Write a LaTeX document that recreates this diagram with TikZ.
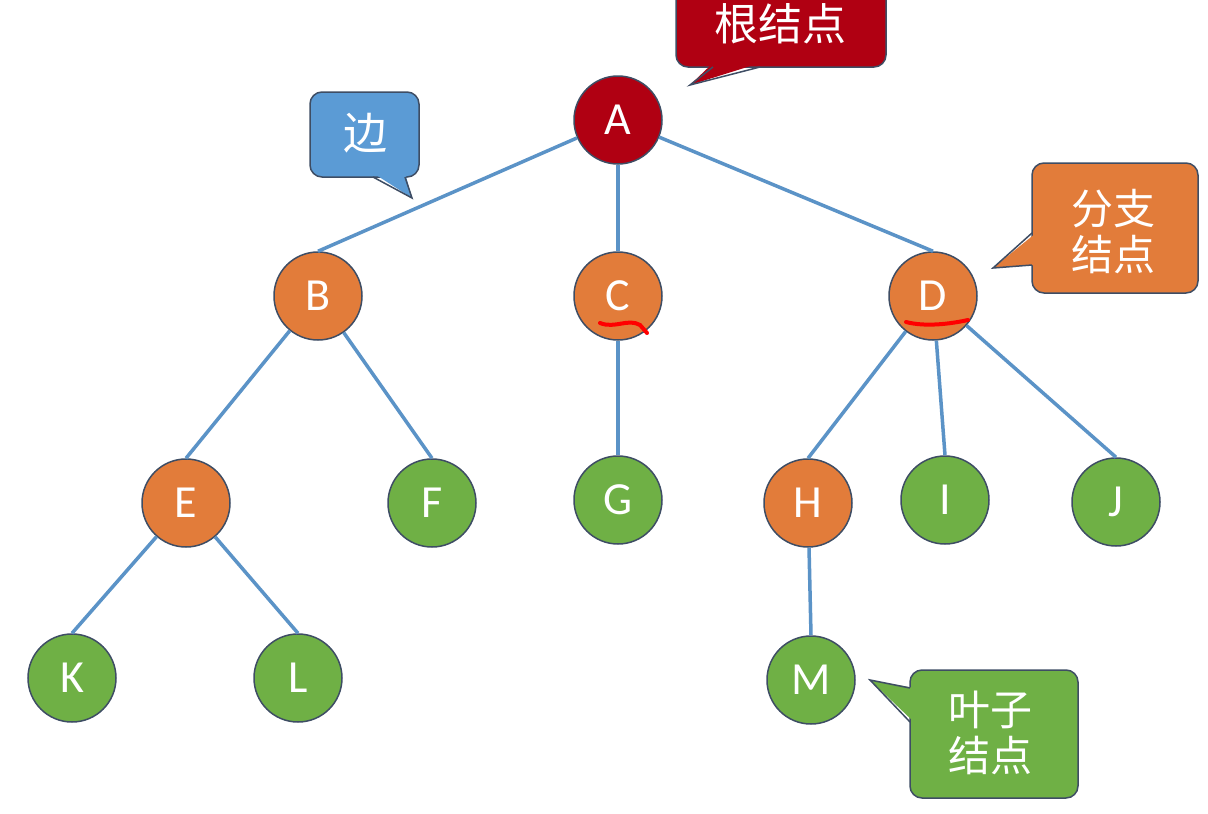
\documentclass[tikz,border=0pt]{standalone}
\usepackage{fontspec}
\setmainfont{Carlito}
\newfontfamily\cjk{Noto Sans CJK SC}
\definecolor{rootred}{HTML}{B00012}
\definecolor{orng}{HTML}{E27C3A}
\definecolor{grn}{HTML}{6FB045}
\definecolor{blu}{HTML}{5B9BD5}
\definecolor{edgeblue}{HTML}{5B93C7}
\definecolor{bord}{HTML}{3E4D64}
\tikzset{
  tnode/.style={circle, minimum size=88pt, inner sep=0pt, draw=bord, line width=1.5pt, text=white, font=\fontsize{46}{46}\selectfont},
  rootn/.style={tnode, fill=rootred},
  branchn/.style={tnode, fill=orng},
  leafn/.style={tnode, fill=grn},
  edgeline/.style={draw=edgeblue, line width=3.5pt},
  boxshape/.style={draw=bord, line width=1.5pt, rounded corners=12pt},
  tipline/.style={draw=bord, line width=1.5pt, line join=miter},
  ctext/.style={text=white, font=\cjk\fontsize{44}{48}\selectfont, align=center, inner sep=0pt},
  redmark/.style={draw=red, line width=4pt, line cap=round}
}
\begin{document}
\begin{tikzpicture}[x=1pt,y=-1pt]
\useasboundingbox (0,0) rectangle (1208,814);
\fill[white] (0,0) rectangle (1208,814);
% nodes
\node[rootn] (A) at (618,120) {A};
\node[branchn] (B) at (318,296) {B};
\node[branchn] (C) at (618,296) {C};
\node[branchn] (D) at (933,296) {D};
\node[branchn] (E) at (186,503) {E};
\node[leafn] (F) at (432,503) {F};
\node[leafn] (G) at (618,500) {G};
\node[branchn] (H) at (808,503) {H};
\node[leafn] (I) at (945,500) {I};
\node[leafn] (J) at (1116,502) {J};
\node[leafn] (K) at (72,678) {K};
\node[leafn] (L) at (298,678) {L};
\node[leafn] (M) at (811,680) {M};
% edges
\draw[edgeline] (A) -- (B.north);
\draw[edgeline] (A) -- (C.north);
\draw[edgeline] (A) -- (D.north);
\draw[edgeline] (B) -- (E.north);
\draw[edgeline] (B) -- (F.north);
\draw[edgeline] (C) -- (G.north);
\draw[edgeline] (D) -- (H.north);
\draw[edgeline] (D) -- (I.north);
\draw[edgeline] (D) -- (J.north);
\draw[edgeline] (E) -- (K.north);
\draw[edgeline] (E) -- (L.north);
\draw[edgeline] (H) -- (M.north);
% callout: root
\draw[boxshape, fill=rootred] (676,-20) rectangle (886,67);
\fill[rootred] (713,63) -- (690,85) -- (760,63) -- cycle;
\draw[tipline] (713,67) -- (690,85) -- (760,67);
\node[ctext] (rootlbl) at (780,24) {根结点};
% callout: edge
\draw[boxshape, fill=blu] (310,92) rectangle (419,177);
\fill[blu] (373,173) -- (412,198) -- (405,173) -- cycle;
\draw[tipline] (373,177) -- (412,198) -- (405,177);
\node[ctext] (edgelbl) at (365,133) {边};
% callout: branch
\draw[boxshape, fill=orng] (1032,163) rectangle (1198,293);
\fill[orng] (1036,233) -- (993,268) -- (1036,265) -- cycle;
\draw[tipline] (1032,233) -- (993,268) -- (1032,265);
\node[ctext, font=\cjk\fontsize{42}{46}\selectfont] (branchlbl) at (1113,232) {分支\\结点};
% callout: leaf
\draw[boxshape, fill=grn] (910,670) rectangle (1078,798);
\fill[grn] (914,688) -- (870,680) -- (914,722) -- cycle;
\draw[tipline] (910,688) -- (870,680) -- (910,722);
\node[ctext, font=\cjk\fontsize{42}{46}\selectfont] (leaflbl) at (990,733) {叶子\\结点};
% red marks
\draw[redmark] (600,323) .. controls (615,329) and (628,318) .. (640,325) -- (647,333);
\draw[redmark] (906,322) .. controls (925,327) and (950,324) .. (968,320);
\end{tikzpicture}
\end{document}
